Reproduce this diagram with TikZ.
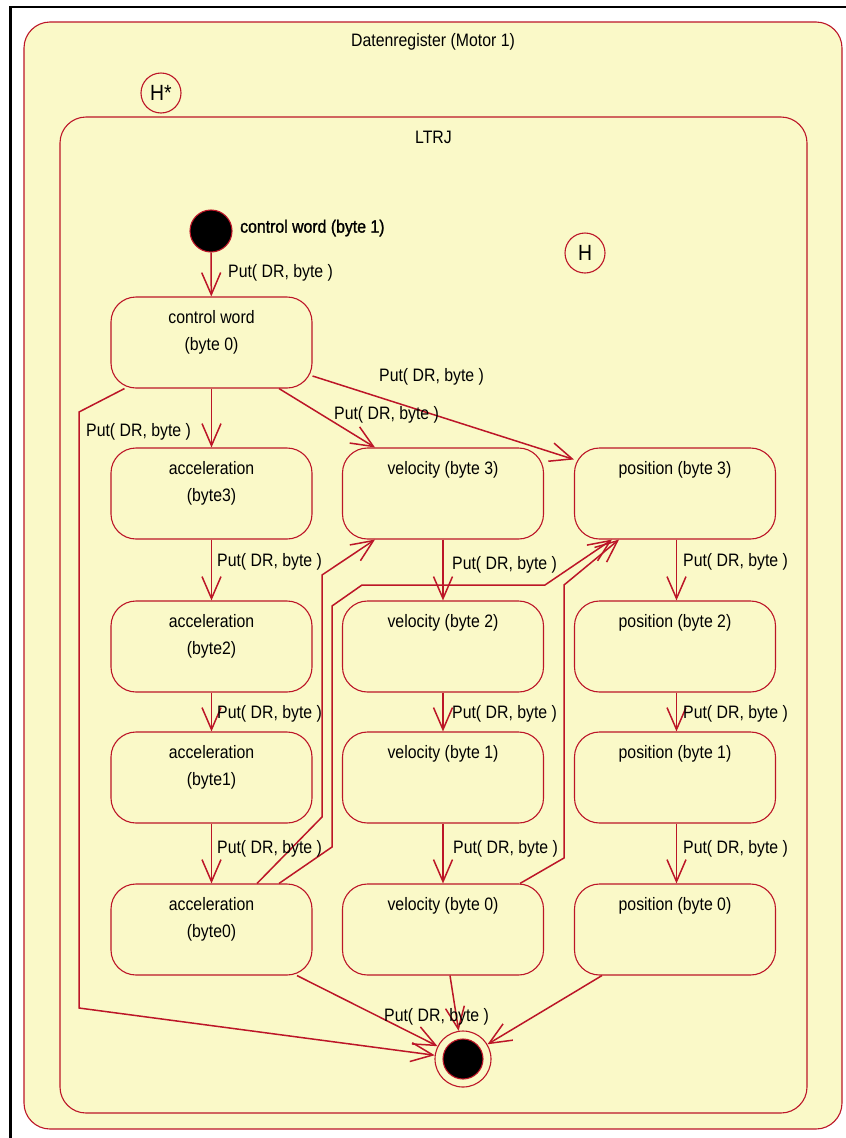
\documentclass[tikz,border=0pt]{standalone}
\usepackage{fontspec}
\setmainfont{Liberation Sans}[FakeStretch=0.88]
\newfontfamily\heavyfont{Liberation Sans}[FakeStretch=0.88, FakeBold=1.2]
\usetikzlibrary{arrows.meta}
\definecolor{lred}{RGB}{188,22,40}
\definecolor{lfill}{RGB}{250,249,200}
\tikzset{
  comp/.style={draw=lred, fill=lfill, line width=1.1pt, rounded corners=26pt, inner sep=0pt},
  st/.style={draw=lred, fill=lfill, line width=1.1pt, rounded corners=25pt, minimum width=201pt, minimum height=91pt, inner sep=0pt},
  stl/.style={anchor=north, inner sep=0pt, align=center, yshift=-14pt, font=\fontsize{18}{27}\selectfont, text=black},
  plab/.style={anchor=west, inner sep=0pt, yshift=-2pt, font=\fontsize{18}{22}\selectfont, text=black},
  hist/.style={circle, draw=lred, fill=lfill, line width=1.1pt, minimum size=40pt, inner sep=0pt, font=\fontsize{22}{24}\selectfont},
  initst/.style={circle, draw=lred, fill=black, line width=1.1pt, minimum size=42pt, inner sep=0pt},
  finalst/.style={circle, draw=lred, fill=lfill, line width=1.1pt, minimum size=56pt, inner sep=0pt,
     path picture={\filldraw[draw=lred, fill=black, line width=1.1pt] (path picture bounding box.center) circle (20pt);}},
  arr/.style={draw=lred, line width=1.5pt, -{Straight Barb[length=22pt, width=19pt]}}
}
\begin{document}
\begin{tikzpicture}[x=1pt, y=-1pt]
\useasboundingbox (0,0) rectangle (846,1138);
\fill[white] (0,0) rectangle (846,1138);
% outer frame
\draw[line width=2.5pt, black] (10.5,1138) -- (10.5,7) -- (846,7);
% composite states
\node[comp, minimum width=818pt, minimum height=1107pt,
      label={[stl, yshift=2pt]north:Datenregister (Motor 1)}] (dr) at (433,575.5) {};
\node[comp, minimum width=747pt, minimum height=996pt,
      label={[stl]north:LTRJ}] (ltrj) at (433.5,615) {};
% history states
\node[hist] (hdeep) at (161,93) {H*};
\node[hist] (hshallow) at (585,253) {H};
% initial / final
\node[initst] (init) at (211,231) {};
\node[plab, font=\heavyfont\fontsize{18}{22}\selectfont] (initlab) at (240,226) {control word (byte 1)};
\node[finalst] (final) at (463,1059) {};
% simple states
\node[st, label={[stl]north:control word\\(byte 0)}] (cw) at (211.5,342.5) {};
\node[st, label={[stl]north:acceleration\\(byte3)}] (acc3) at (211.5,493.5) {};
\node[st, label={[stl]north:acceleration\\(byte2)}] (acc2) at (211.5,646.5) {};
\node[st, label={[stl]north:acceleration\\(byte1)}] (acc1) at (211.5,777.5) {};
\node[st, label={[stl]north:acceleration\\(byte0)}] (acc0) at (211.5,929.5) {};
\node[st, label={[stl]north:velocity (byte 3)}] (vel3) at (443,493.5) {};
\node[st, label={[stl]north:velocity (byte 2)}] (vel2) at (443,646.5) {};
\node[st, label={[stl]north:velocity (byte 1)}] (vel1) at (443,777.5) {};
\node[st, label={[stl]north:velocity (byte 0)}] (vel0) at (443,929.5) {};
\node[st, label={[stl]north:position (byte 3)}] (pos3) at (675,493.5) {};
\node[st, label={[stl]north:position (byte 2)}] (pos2) at (675,646.5) {};
\node[st, label={[stl]north:position (byte 1)}] (pos1) at (675,777.5) {};
\node[st, label={[stl]north:position (byte 0)}] (pos0) at (675,929.5) {};
% transitions
\draw[arr] (init) -- (cw);
\draw[arr] (cw) -- (acc3);
\draw[arr] ([xshift=67.5pt]cw.south) -- ([xshift=-68pt]vel3.north);
\draw[arr] ([yshift=-33.5pt]cw.east) -- ([yshift=-12pt]pos3.north west);
\draw[arr] ([xshift=-87pt]cw.south) -- (79,412) -- (79,1008) -- (final);
\draw[arr] (acc3) -- (acc2);
\draw[arr] (acc2) -- (acc1);
\draw[arr] (acc1) -- (acc0);
\draw[arr] (vel3) -- (vel2);
\draw[arr] (vel2) -- (vel1);
\draw[arr] (vel1) -- (vel0);
\draw[arr] ([xshift=1.5pt]pos3.south) -- ([xshift=1.5pt]pos2.north);
\draw[arr] ([xshift=1.5pt]pos2.south) -- ([xshift=1.5pt]pos1.north);
\draw[arr] ([xshift=1.5pt]pos1.south) -- ([xshift=1.5pt]pos0.north);
\draw[arr] ([xshift=45.5pt]acc0.north) -- (322,817) -- (322,575) -- ([xshift=-68pt]vel3.south);
\draw[arr] ([xshift=67.5pt]acc0.north) -- (332,847) -- (332,606) -- (362,585) -- (545,585) -- ([xshift=-63pt]pos3.south);
\draw[arr] ([xshift=77pt]vel0.north) -- (564,858) -- (564,585) -- ([xshift=-56pt]pos3.south);
\draw[arr] ([xshift=85.5pt]acc0.south) -- (final);
\draw[arr] ([xshift=7pt]vel0.south) -- (final);
\draw[arr] ([xshift=-73pt]pos0.south) -- (final);
% transition labels
\node[plab] (t1) at (228,271) {Put( DR, byte )};
\node[plab] (t2) at (86,430) {Put( DR, byte )};
\node[plab] (t3) at (334,413) {Put( DR, byte )};
\node[plab] (t4) at (379,375) {Put( DR, byte )};
\node[plab] (t5) at (217,560) {Put( DR, byte )};
\node[plab] (t6) at (217,712) {Put( DR, byte )};
\node[plab] (t7) at (217,847) {Put( DR, byte )};
\node[plab] (t8) at (452,563) {Put( DR, byte )};
\node[plab] (t9) at (452,712) {Put( DR, byte )};
\node[plab] (t10) at (453,847) {Put( DR, byte )};
\node[plab] (t11) at (683,560) {Put( DR, byte )};
\node[plab] (t12) at (683,712) {Put( DR, byte )};
\node[plab] (t13) at (683,847) {Put( DR, byte )};
\node[plab] (t14) at (384,1015) {Put( DR, byte )};
\end{tikzpicture}
\end{document}
